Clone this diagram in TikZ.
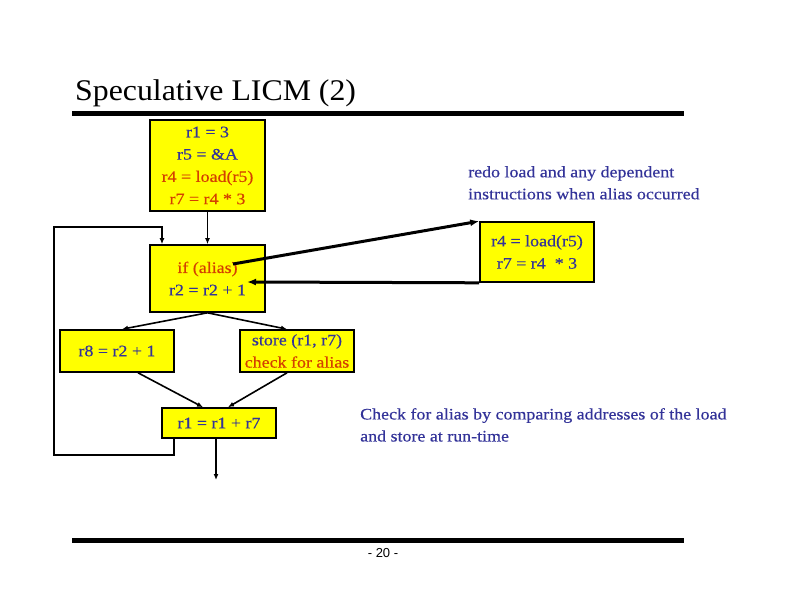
\documentclass[tikz,border=0pt]{standalone}
\usepackage{fontspec}
\setmainfont{Liberation Serif}[FakeStretch=1.12,FakeBold=0.4]
\newfontfamily\titlefont{Liberation Serif}[FakeStretch=1.06]
\newfontfamily\pgnumfont{Liberation Sans}
\usetikzlibrary{arrows.meta,calc}
\definecolor{txtblue}{RGB}{51,51,153}
\definecolor{txtred}{RGB}{212,64,0}
\definecolor{boxyellow}{RGB}{255,255,0}
\tikzset{
  box/.style={draw=black, line width=1.6pt, fill=boxyellow, align=center, font=\fontsize{16}{22.3}\selectfont, inner sep=0pt},
  conn/.style={line width=1.6pt, -{Latex[length=6pt,width=5pt]}},
  thickarrow/.style={line width=3pt, -{Latex[length=9pt,width=7pt]}},
  note/.style={text=txtblue, align=left, anchor=north west, font=\fontsize{16}{22}\selectfont, inner sep=0pt},
  rulebar/.style={line width=5pt}
}
\begin{document}
\begin{tikzpicture}[x=1pt,y=-1pt]
\useasboundingbox[fill=white] (0,0) rectangle (792,612);
% title and rules
\node[anchor=base west, inner sep=0pt, font=\titlefont\fontsize{30}{34}\selectfont] (title) at (75,101) {Speculative LICM (2)};
\coordinate (tr1) at (72,114);
\coordinate (tr2) at (684,114);
\draw[rulebar] (tr1) -- (tr2);
\coordinate (br1) at (72,540);
\coordinate (br2) at (684,540);
\draw[rulebar] (br1) -- (br2);
\node[anchor=center, inner sep=0pt, font=\pgnumfont\fontsize{13}{15}\selectfont] (pg) at (383,553) {- 20 -};
% boxes
\node[box, minimum width=115pt, minimum height=91pt] (b1) at (207.5,165.5)
  {\textcolor{txtblue}{r1 = 3}\\ \textcolor{txtblue}{r5 = \&A}\\ \textcolor{txtred}{r4 = load(r5)}\\ \textcolor{txtred}{r7 = r4 * 3}};
\node[box, minimum width=115pt, minimum height=67pt] (b2) at (207.5,278.5)
  {\textcolor{txtred}{if (alias)}\\ \textcolor{txtblue}{r2 = r2 + 1}};
\node[box, minimum width=114pt, minimum height=42pt] (r8) at (117,351)
  {\textcolor{txtblue}{r8 = r2 + 1}};
\node[box, minimum width=114pt, minimum height=42pt] (st) at (297,351)
  {\textcolor{txtblue}{store (r1, r7)}\\ \textcolor{txtred}{check for alias}};
\node[box, minimum width=114pt, minimum height=30pt] (r1b) at (219,423)
  {\textcolor{txtblue}{r1 = r1 + r7}};
\node[box, minimum width=114pt, minimum height=60pt] (rb) at (537,252)
  {\textcolor{txtblue}{r4 = load(r5)}\\ \textcolor{txtblue}{r7 = r4 \ * 3}};
% notes
\node[note] (n1) at (468,166) {redo load and any dependent\\instructions when alias occurred};
\node[note] (n2) at (360,408) {Check for alias by comparing addresses of the load\\and store at run-time};
% connectors
\draw[conn] (b1.south) -- (b2.north);
\draw[conn] (b2.south) -- ([xshift=5pt]r8.north);
\draw[conn] (b2.south) -- ([xshift=-10pt]st.north);
\draw[conn] ([xshift=21pt]r8.south) -- ([xshift=-16pt]r1b.north);
\draw[conn] ([xshift=-10pt]st.south) -- ([xshift=9pt]r1b.north);
\coordinate (exit) at (216,480);
\draw[conn] ([xshift=-3pt]r1b.south) -- (exit);
\coordinate (l1) at (174,455);
\coordinate (l2) at (54,455);
\coordinate (l3) at (54,227);
\coordinate (l4) at (162,227);
\draw[conn] ([xshift=-45pt]r1b.south) -- (l1) -- (l2) -- (l3) -- (l4) -- ([xshift=-45.5pt]b2.north);
\coordinate (ifend) at (233,264);
\draw[thickarrow] (ifend) -- (rb.north west);
\coordinate (b2in) at (247,282);
\draw[thickarrow] (rb.south west) -- (b2in);
\end{tikzpicture}
\end{document}
